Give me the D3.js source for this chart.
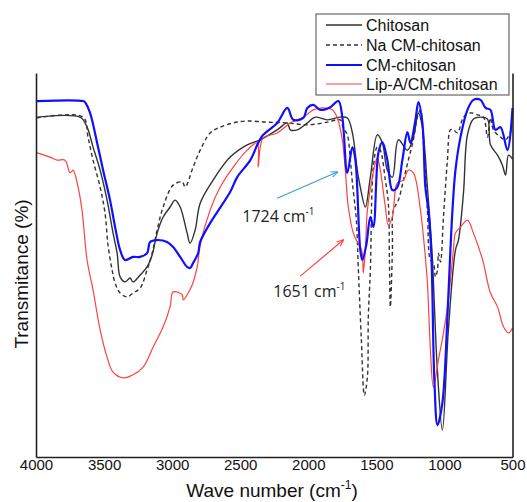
<!DOCTYPE html>
<html>
<head>
<meta charset="utf-8">
<script src="https://cdn.jsdelivr.net/npm/d3@7"></script>
<style>
  html, body { margin: 0; padding: 0; background: #fff; }
  svg { display: block; font-family: "Liberation Sans", Arial, sans-serif; }
</style>
</head>
<body>
<svg id="chart" width="527" height="502"></svg>
<script>
// ---- data: [wavenumber (cm-1), transmittance (%)] ----
const chitosan = [
  [3993,88.5],[3676,88.5],[3625,85.9],[3581,80.7],[3529,74.7],[3478,66.9],[3434,58.3],[3404,53.1],
  [3382,46.9],[3346,45.6],[3309,46.6],[3287,45.6],[3235,47.4],[3184,49.5],[3147,52.6],[3110,58.3],
  [3066,62.5],[3015,65.1],[2978,66.9],[2941,65.1],[2890,58.3],[2868,55.7],[2831,59.1],[2794,66.1],
  [2699,72.1],[2574,78.1],[2449,81.3],[2353,82.6],[2228,85.2],[2154,87.0],[2132,85.2],[2081,85.2],
  [2007,87.0],[1949,88.5],[1860,87.8],[1765,88.5],[1713,88.3],[1676,84.4],[1640,74.7],[1618,70.3],
  [1581,65.1],[1544,72.9],[1493,83.9],[1456,81.8],[1419,74.7],[1382,72.9],[1338,82.6],[1272,79.9],
  [1228,83.3],[1191,89.6],[1162,85.9],[1125,70.3],[1103,59.9],[1088,51.3],[1051,22.1],[1015,7.0],
  [971,33.1],[919,53.9],[897,56.5],[860,68.8],[831,83.9],[787,88.0],[735,88.5],[684,88.0],
  [662,81.3],[610,78.6],[574,76.0],[551,73.4],[529,78.6],[500,77.6]
];
const naCMChitosan = [
  [3993,88.3],[3654,88.5],[3618,83.3],[3581,77.3],[3529,70.3],[3493,63.5],[3471,55.2],[3441,48.7],
  [3419,45.3],[3382,42.7],[3331,41.7],[3287,42.7],[3235,44.0],[3184,48.7],[3147,53.1],[3110,59.1],
  [3066,65.1],[2993,70.8],[2926,71.6],[2904,70.3],[2846,75.5],[2794,79.9],[2721,84.4],[2647,85.9],
  [2551,87.0],[2449,87.5],[2301,87.2],[2154,87.0],[2007,86.5],[1860,87.2],[1765,87.8],[1743,85.7],
  [1713,83.9],[1691,77.3],[1676,71.4],[1647,61.7],[1632,48.7],[1610,30.5],[1588,16.1],[1566,20.8],
  [1559,36.5],[1544,48.7],[1522,75.5],[1493,80.7],[1471,79.9],[1434,72.1],[1412,66.1],[1404,51.3],
  [1397,39.1],[1382,53.9],[1375,64.3],[1338,66.9],[1301,72.1],[1265,77.3],[1228,82.6],[1199,88.5],
  [1176,90.4],[1154,81.8],[1125,64.3],[1103,51.3],[1081,50.5],[1066,46.9],[1051,48.7],[1044,53.1],
  [1029,50.8],[1007,62.5],[978,77.3],[956,85.2],[934,85.2],[904,84.4],[860,88.5],[809,89.6],
  [757,89.1],[713,88.5],[684,83.3],[662,88.3],[640,85.2],[588,83.3],[551,82.6],[500,85.9]
];
const cmChitosan = [
  [3993,92.7],[3654,92.7],[3640,92.4],[3603,89.6],[3551,81.8],[3507,74.7],[3456,66.9],[3419,59.9],
  [3382,53.9],[3346,51.3],[3287,52.1],[3235,52.1],[3184,53.1],[3162,56.0],[3110,56.5],[3037,56.0],
  [2993,54.7],[2941,52.1],[2890,49.5],[2868,49.2],[2846,50.5],[2809,53.1],[2794,56.0],[2721,60.9],
  [2574,69.0],[2522,72.9],[2426,77.3],[2368,81.8],[2331,83.9],[2228,87.0],[2154,90.9],[2110,87.8],
  [2037,88.3],[2007,90.9],[1963,91.7],[1912,90.4],[1838,91.1],[1779,92.7],[1750,88.5],[1713,74.0],
  [1676,80.7],[1654,77.3],[1618,53.9],[1603,51.3],[1574,55.2],[1544,62.5],[1522,59.9],[1485,79.2],
  [1456,82.0],[1419,77.3],[1382,69.5],[1346,70.3],[1309,77.3],[1272,84.6],[1250,81.8],[1213,87.8],
  [1191,92.4],[1162,87.0],[1140,70.3],[1118,64.3],[1096,52.6],[1074,20.1],[1051,8.3],[1015,14.1],
  [978,36.5],[956,53.9],[941,64.3],[919,74.7],[882,83.3],[831,90.4],[787,93.0],[735,93.0],
  [698,90.9],[662,90.4],[625,85.2],[588,85.9],[537,79.9],[500,90.9]
];
const lipACMChitosan = [
  [3993,79.2],[3897,78.1],[3846,77.3],[3787,77.3],[3750,74.0],[3728,74.7],[3691,70.3],[3662,64.3],
  [3625,51.3],[3581,43.5],[3529,33.1],[3478,26.0],[3434,22.1],[3360,20.6],[3287,21.4],[3213,23.4],
  [3140,28.6],[3066,33.9],[3015,39.1],[2993,43.0],[2926,42.2],[2919,40.9],[2853,44.8],[2816,49.5],
  [2794,55.2],[2721,64.3],[2647,70.3],[2551,75.5],[2449,79.9],[2375,81.8],[2368,75.5],[2353,80.7],
  [2331,83.1],[2228,84.4],[2132,87.0],[2037,88.5],[1963,90.4],[1890,90.9],[1824,90.4],[1787,88.3],
  [1750,82.6],[1728,74.7],[1706,65.1],[1669,58.3],[1640,56.0],[1618,54.7],[1603,53.1],[1596,47.9],
  [1581,53.9],[1566,64.3],[1529,72.9],[1493,77.9],[1471,74.7],[1434,65.1],[1412,60.4],[1382,62.5],
  [1346,71.4],[1301,72.1],[1265,74.7],[1228,74.0],[1176,64.3],[1154,57.3],[1125,45.3],[1103,27.9],
  [1081,18.2],[1044,25.3],[1007,32.3],[971,40.9],[934,53.9],[919,58.3],[882,59.9],[831,61.7],
  [787,58.3],[735,53.1],[713,50.5],[662,42.7],[610,39.1],[566,33.9],[529,32.3],[500,33.6]
];
const seriesNames = ["Chitosan", "Na CM-chitosan", "CM-chitosan", "Lip-A/CM-chitosan"];
const xTicks = [4000, 3500, 3000, 2500, 2000, 1500, 1000, 500];
// annotations: label, text position, arrow tail and tip in data units
const annotLabels = ["1724", "1651"];
const annotText = [[2485, 61.2], [2257, 41.7]];
const annotTail = [[2228, 67.4], [2059, 47.1]];
const annotTip  = [[1787, 74.2], [1743, 56.5]];

// ---- layout ----
const svg = d3.select("#chart");
const L = 36, R = 512.5, T = 73, B = 457;
const x = d3.scaleLinear().domain([4000, 500]).range([L, R]);
const y = d3.scaleLinear().domain([0, 100]).range([B, T]);

const styles = [
  { data: chitosan, color: "#333333", width: 1.4, dash: null },
  { data: naCMChitosan, color: "#333333", width: 1.4, dash: "4,3" },
  { data: cmChitosan, color: "#1010ff", width: 2.2, dash: null },
  { data: lipACMChitosan, color: "#ff4040", width: 1.2, dash: null }
];

const line = d3.line().x(d => x(d[0])).y(d => y(d[1])).curve(d3.curveCatmullRom.alpha(0.5));

// draw order: dashed, black, red, blue
[1, 0, 3, 2].forEach(i => {
  const s = styles[i];
  svg.append("path").datum(s.data)
    .attr("d", line)
    .attr("fill", "none")
    .attr("stroke", s.color)
    .attr("stroke-width", s.width)
    .attr("stroke-linejoin", "round")
    .attr("stroke-dasharray", s.dash);
});

// axes frame (left, bottom, right)
const xAxis = d3.axisBottom(x).tickValues(xTicks).tickSize(0).tickPadding(6).tickFormat(d3.format("d"));
const gx = svg.append("g").attr("transform", `translate(0,${B})`).call(xAxis);
gx.select(".domain").attr("stroke", "#222").attr("stroke-width", 1.6);
gx.selectAll("text").attr("font-size", 15).attr("fill", "#111")
  .attr("font-family", "'Liberation Sans', Arial, sans-serif").attr("dy", "0.72em").attr("y", 2);

const yAxis = d3.axisLeft(y).tickValues([]).tickSize(0);
const gy = svg.append("g").attr("transform", `translate(${L},0)`).call(yAxis);
gy.select(".domain").attr("stroke", "#222").attr("stroke-width", 1.6);
const gr = svg.append("g").attr("transform", `translate(${R},0)`).call(d3.axisRight(y).tickValues([]).tickSize(0));
gr.select(".domain").attr("stroke", "#222").attr("stroke-width", 1.6);

// axis titles
const xt = svg.append("text").attr("x", 272).attr("y", 497).attr("text-anchor", "middle")
  .attr("font-size", 19).attr("fill", "#111");
xt.append("tspan").text("Wave number (cm");
xt.append("tspan").text("-1").attr("font-size", 12).attr("dy", -8);
xt.append("tspan").text(")").attr("dy", 8);

svg.append("text").attr("transform", "rotate(-90)")
  .attr("x", -274).attr("y", 28).attr("text-anchor", "middle")
  .attr("font-size", 19).attr("fill", "#111").text("Transmitance (%)");

// annotations
const arrowColors = ["#3f9bd6", "#ff4040"];
const defs = svg.append("defs");
arrowColors.forEach((c, i) => {
  defs.append("marker").attr("id", "ah" + i).attr("viewBox", "0 0 10 10")
    .attr("refX", 9).attr("refY", 5).attr("markerWidth", 7).attr("markerHeight", 7)
    .attr("orient", "auto").attr("markerUnits", "userSpaceOnUse")
    .append("path").attr("d", "M0,1 L10,5 L0,9").attr("fill", "none").attr("stroke", c).attr("stroke-width", 1.5);
});
annotLabels.forEach((lab, i) => {
  svg.append("line")
    .attr("x1", x(annotTail[i][0])).attr("y1", y(annotTail[i][1]))
    .attr("x2", x(annotTip[i][0])).attr("y2", y(annotTip[i][1]))
    .attr("stroke", arrowColors[i]).attr("stroke-width", 1.2)
    .attr("marker-end", `url(#ah${i})`);
  const t = svg.append("text").attr("x", x(annotText[i][0])).attr("y", y(annotText[i][1]))
    .attr("font-size", 16).attr("fill", "#222")
    .attr("font-family", "'Open Sans', 'Liberation Sans', sans-serif");
  t.append("tspan").text(lab + " cm");
  t.append("tspan").text("-1").attr("font-size", 10).attr("dy", -7);
});

// legend
const lg = svg.append("g");
lg.append("rect").attr("x", 316).attr("y", 14).attr("width", 193).attr("height", 81)
  .attr("fill", "#fff").attr("stroke", "#666").attr("stroke-width", 1.2);
const rowY = [25, 45, 65, 84];
seriesNames.forEach((name, i) => {
  const s = styles[i];
  lg.append("line").attr("x1", 326).attr("x2", 362).attr("y1", rowY[i]).attr("y2", rowY[i])
    .attr("stroke", s.color).attr("stroke-width", s.width).attr("stroke-dasharray", s.dash);
  lg.append("text").attr("x", 366).attr("y", rowY[i] + 6).attr("font-size", 16).attr("fill", "#111").text(name);
});
</script>
</body>
</html>
